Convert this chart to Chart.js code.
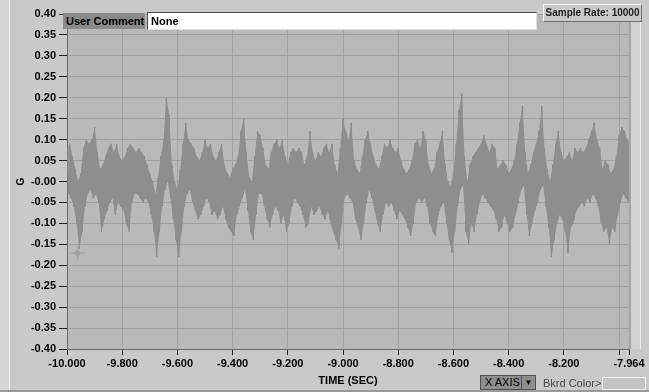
<!DOCTYPE html>
<html>
<head>
<meta charset="utf-8">
<script src="https://cdn.jsdelivr.net/npm/chart.js@4.4.1/dist/chart.umd.min.js"></script>
<style>
  body { margin:0; background:#c9c9c9; }
  #wrap { position:relative; width:649px; height:392px; overflow:hidden; background:#c9c9c9; font-family:"Liberation Sans", Arial, sans-serif; }
  #myChart { position:absolute; left:0; top:0; }
  .ov { position:absolute; box-sizing:border-box; white-space:nowrap; }
  #edgeL { left:0; top:0; width:10px; height:392px; background:#d6d6d6; border-right:1px solid #eeeeee; }
  #edgeB { left:0; top:390px; width:649px; height:2px; background:#9a9a9a; }
  #commentLbl { left:63px; top:13px; width:82px; height:16px; background:#8a8a8a; font-weight:bold; font-size:11px; line-height:16px; padding-left:3px; color:#000; }
  #commentBox { left:147px; top:12px; width:390px; height:18px; background:#fff; border-top:1px solid #4a4a4a; border-left:1px solid #4a4a4a; border-bottom:1px solid #dedede; border-right:1px solid #dedede; font-weight:bold; font-size:11px; line-height:16px; padding-left:3px; color:#000; }
  #rateBox { left:543px; top:4px; width:99px; height:18px; background:#c9c9c9; border-top:1px solid #f2f2f2; border-left:1px solid #f2f2f2; border-bottom:1px solid #707070; border-right:1px solid #707070; font-weight:bold; font-size:10px; line-height:16px; text-align:center; color:#222; }
  #strip { left:630px; top:22px; width:11px; height:327px; background:#d2d2d2; border-left:1px solid #a8a8a8; border-right:1px solid #eeeeee; }
  #xBtn { left:480px; top:375px; width:56px; height:15px; background:#8e8e8e; border:1px solid #505050; font-size:11px; line-height:13px; color:#000; padding-left:4px; }
  #xBtn span { position:absolute; right:0; top:0; width:13px; height:13px; border-left:1px solid #505050; font-size:8px; line-height:13px; text-align:center; }
  #bkrdTxt { left:543px; top:376px; font-size:11px; line-height:14px; color:#4a4a4a; }
  #bkrdBox { left:602px; top:377px; width:44px; height:13px; background:#c4c4c4; border:1px solid #efefef; }
</style>
</head>
<body>
<div id="wrap">
  <div class="ov" id="edgeL"></div>
  <div class="ov" id="edgeB"></div>
  <div class="ov" id="strip"></div>
  <canvas id="myChart" width="649" height="392"></canvas>
  <div class="ov" id="commentLbl">User Comment</div>
  <div class="ov" id="commentBox">None</div>
  <div class="ov" id="rateBox">Sample Rate: 10000</div>
  <div class="ov" id="xBtn">X AXIS<span>&#9660;</span></div>
  <div class="ov" id="bkrdTxt">Bkrd Color&gt;</div>
  <div class="ov" id="bkrdBox"></div>
</div>
<script>
// envelope of the signal, every 0.01 s starting at -10.000 s
const startTime = -10;
const sampleStep = 0.01;
const highG = [
  0.08,0.09,0.06,0.03,0.00,0.02,0.08,0.10,0.09,0.10,0.13,
  0.07,0.03,0.04,0.06,0.08,0.09,0.07,0.09,0.06,0.05,
  0.06,0.08,0.09,0.08,0.07,0.08,0.07,0.06,0.04,0.02,
  0.00,-0.03,0.01,0.06,0.10,0.20,0.16,0.04,0.00,-0.02,
  0.03,0.09,0.14,0.10,0.09,0.08,0.06,0.05,0.07,0.10,
  0.08,0.09,0.06,0.05,0.07,0.09,0.04,0.02,0.01,0.03,
  0.04,0.06,0.12,0.15,0.07,0.01,0.00,0.06,0.12,0.11,
  0.08,0.04,0.03,0.07,0.09,0.10,0.08,0.10,0.06,0.04,
  0.07,0.08,0.07,0.08,0.07,0.04,0.06,0.12,0.07,0.05,
  0.07,0.06,0.08,0.09,0.07,0.09,0.04,0.02,0.08,0.15,0.12,
  0.10,0.14,0.05,0.03,0.02,0.06,0.10,0.12,0.09,0.06,
  0.04,0.03,0.06,0.09,0.08,0.10,0.08,0.07,0.08,0.05,
  0.03,0.02,0.03,0.05,0.09,0.10,0.08,0.12,0.10,0.04,
  0.02,0.03,0.07,0.09,0.12,0.04,0.00,-0.01,0.02,0.09,
  0.17,0.21,0.06,0.00,0.04,0.06,0.07,0.08,0.09,0.11,0.09,
  0.07,0.09,0.08,0.03,0.04,0.05,0.04,0.02,0.03,0.05,
  0.09,0.14,0.18,0.07,0.02,0.04,0.07,0.09,0.12,0.18,
  0.08,0.03,0.00,0.04,0.09,0.12,0.07,0.05,0.06,0.07,
  0.05,0.08,0.07,0.08,0.07,0.08,0.10,0.12,0.14,0.10,
  0.08,0.03,0.05,0.04,0.02,0.03,0.06,0.11,0.13,0.12,0.10,0.09
];
const lowG = [
  -0.03,-0.04,-0.06,-0.10,-0.16,-0.12,-0.06,-0.03,-0.02,-0.04,-0.03,
  -0.05,-0.12,-0.09,-0.07,-0.05,-0.04,-0.08,-0.05,-0.06,-0.07,
  -0.10,-0.12,-0.05,-0.03,-0.03,-0.04,-0.05,-0.04,-0.05,-0.08,
  -0.12,-0.18,-0.12,-0.06,-0.02,0.00,-0.04,-0.09,-0.14,-0.18,
  -0.12,-0.06,-0.03,-0.02,-0.05,-0.07,-0.09,-0.08,-0.06,-0.04,
  -0.05,-0.08,-0.07,-0.09,-0.08,-0.06,-0.09,-0.11,-0.12,-0.13,
  -0.08,-0.06,-0.04,-0.02,-0.07,-0.12,-0.14,-0.08,-0.03,-0.03,
  -0.06,-0.09,-0.11,-0.08,-0.06,-0.07,-0.10,-0.08,-0.12,-0.10,
  -0.06,-0.04,-0.05,-0.06,-0.08,-0.11,-0.10,-0.06,-0.08,-0.07,
  -0.06,-0.08,-0.09,-0.07,-0.10,-0.12,-0.14,-0.16,-0.10,-0.04,-0.03,
  -0.04,-0.05,-0.09,-0.11,-0.14,-0.10,-0.05,-0.02,-0.04,-0.07,
  -0.10,-0.12,-0.08,-0.05,-0.06,-0.05,-0.07,-0.09,-0.07,-0.08,
  -0.09,-0.11,-0.13,-0.10,-0.05,-0.04,-0.05,-0.04,-0.06,-0.10,
  -0.12,-0.13,-0.08,-0.06,-0.05,-0.10,-0.14,-0.17,-0.12,-0.06,
  -0.02,-0.01,-0.12,-0.15,-0.10,-0.12,-0.08,-0.05,-0.03,-0.04,-0.05,
  -0.06,-0.07,-0.09,-0.12,-0.11,-0.08,-0.10,-0.12,-0.11,-0.08,
  -0.05,-0.02,-0.01,-0.08,-0.13,-0.10,-0.07,-0.05,-0.02,-0.01,
  -0.06,-0.11,-0.18,-0.14,-0.10,-0.08,-0.09,-0.12,-0.17,-0.11,
  -0.10,-0.07,-0.06,-0.05,-0.06,-0.04,-0.05,-0.03,-0.04,-0.06,
  -0.10,-0.12,-0.11,-0.15,-0.11,-0.12,-0.08,-0.05,-0.03,-0.04,-0.05,-0.06
];

const xTickValues = [-10,-9.8,-9.6,-9.4,-9.2,-9.0,-8.8,-8.6,-8.4,-8.2,-8.0,-7.964];
const xTickLabels = ["-10.000","-9.800","-9.600","-9.400","-9.200","-9.000","-8.800","-8.600","-8.400","-8.200","","-7.964"];
const yTickValues = [0.40,0.35,0.30,0.25,0.20,0.15,0.10,0.05,0,-0.05,-0.10,-0.15,-0.20,-0.25,-0.30,-0.35,-0.40];
const yTickLabels = ["0.40","0.35","0.30","0.25","0.20","0.15","0.10","0.05","-0.00","-0.05","-0.10","-0.15","-0.20","-0.25","-0.30","-0.35","-0.40"];

const cursorTime = [-9.961];
const cursorG = [-0.171];

// zigzag between the high and low envelope so the edges get spiky
let trace = [];
let highPts = [];
let lowPts = [];
for (let i = 0; i < highG.length; i++) {
  let t = startTime + i * sampleStep;
  trace.push({x: t, y: highG[i]});
  trace.push({x: t + sampleStep / 2, y: lowG[i]});
  highPts.push({x: t, y: highG[i]});
  lowPts.push({x: t + sampleStep / 2, y: lowG[i]});
}
let cursorPts = cursorTime.map((t, i) => ({x: t, y: cursorG[i]}));

Chart.defaults.font.family = "'Liberation Sans', Arial, sans-serif";
Chart.defaults.animation = false;

const plotBg = {
  id: 'plotBg',
  beforeDraw(chart) {
    const {ctx, chartArea: a} = chart;
    ctx.save();
    ctx.fillStyle = '#b9b9b9';
    ctx.fillRect(a.left, a.top, a.right - a.left, a.bottom - a.top);
    ctx.restore();
  }
};

const tickFont = {size: 11, weight: 'bold'};
const traceColor = '#858585';
const bandColor = '#8e8e8e';

const config = {
  type: 'line',
  data: {
    datasets: [
      { data: highPts, borderColor: bandColor, borderWidth: 0, pointRadius: 0, tension: 0,
        fill: '+1', backgroundColor: bandColor },
      { data: lowPts, borderColor: bandColor, borderWidth: 0, pointRadius: 0, tension: 0 },
      { data: trace, borderColor: traceColor, borderWidth: 1, pointRadius: 0, tension: 0 },
      { data: cursorPts, showLine: false, pointStyle: 'cross', pointRadius: 7, borderColor: '#9c9c9c', borderWidth: 1 },
      { data: cursorPts, showLine: false, pointStyle: 'rect', pointRadius: 2.5, borderColor: '#9c9c9c', backgroundColor: 'rgba(0,0,0,0)', borderWidth: 1 }
    ]
  },
  options: {
    responsive: false,
    layout: { padding: { left: 0, top: 14, right: 20, bottom: 0 } },
    plugins: { legend: { display: false }, tooltip: { enabled: false } },
    scales: {
      x: {
        type: 'linear', min: -10, max: -7.964,
        afterFit: s => { s.height = 43; },
        afterBuildTicks: s => { s.ticks = xTickValues.map(v => ({value: v})); },
        ticks: { callback: (v, i) => xTickLabels[i], autoSkip: false, maxRotation: 0, color: '#000', font: tickFont, padding: 2 },
        grid: { color: '#a2a2a2', tickColor: '#222', tickLength: 6 },
        border: { color: '#6a6a6a' },
        title: { display: true, text: 'TIME (SEC)', color: '#000', font: tickFont, padding: { top: 0, bottom: 4 } }
      },
      y: {
        min: -0.4, max: 0.4,
        afterFit: s => { s.width = 67; },
        afterBuildTicks: s => { s.ticks = yTickValues.map(v => ({value: v})); },
        ticks: { callback: (v, i) => yTickLabels[i], autoSkip: false, color: '#000', font: tickFont, padding: 3 },
        grid: { color: '#a2a2a2', tickColor: '#222', tickLength: 8 },
        border: { color: '#6a6a6a' },
        title: { display: true, text: 'G', color: '#000', font: {size: 10, weight: 'bold'}, padding: { top: 15, bottom: 0 } }
      }
    }
  },
  plugins: [plotBg]
};

const myChart = new Chart(document.getElementById('myChart'), config);
</script>
</body>
</html>
